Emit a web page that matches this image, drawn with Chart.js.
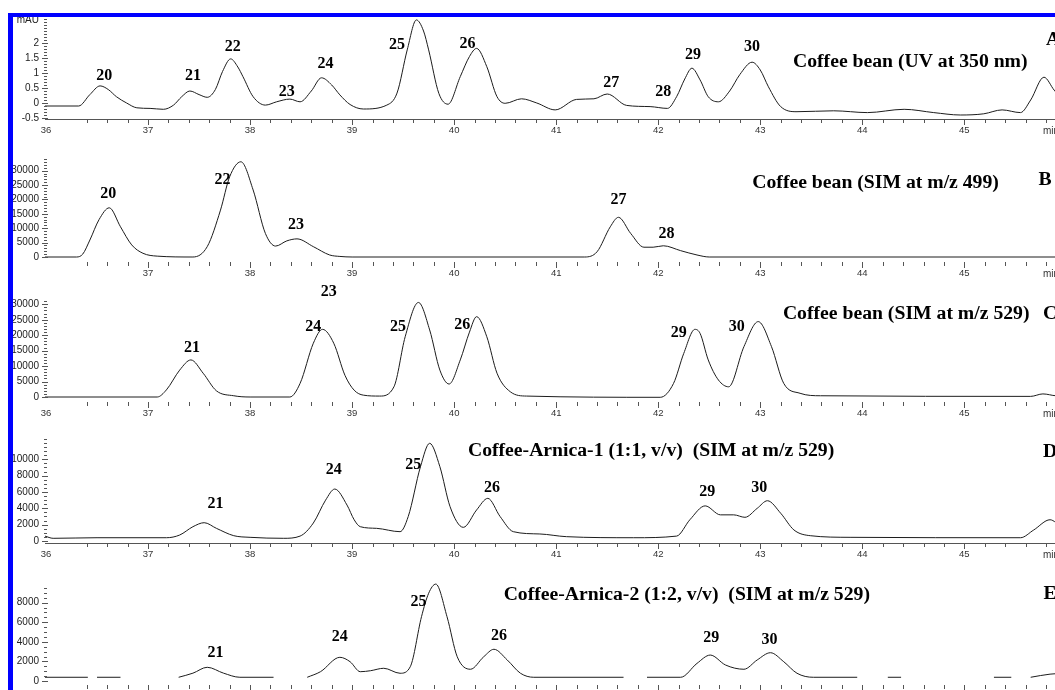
<!DOCTYPE html>
<html>
<head>
<meta charset="utf-8">
<script src="https://cdn.jsdelivr.net/npm/chart.js@4.4.0/dist/chart.umd.min.js"></script>
<style>
  html, body { margin: 0; padding: 0; background: #fff; width: 1055px; height: 690px; overflow: hidden; position: relative; }
  canvas { position: absolute; left: 0; }
  .frame { position: absolute; background: #0000ff; z-index: 10; }
</style>
</head>
<body>
<div class="frame" style="left:8px;top:13px;width:1100px;height:4px"></div>
<div class="frame" style="left:8px;top:13px;width:5px;height:700px"></div>
<script>
// retention time (min) and signal
const timeA = [35.99, 36.32, 36.43, 36.53, 36.61, 36.69, 36.79, 36.89, 37.02, 37.15, 37.25, 37.33, 37.41, 37.50, 37.58, 37.66, 37.73, 37.81, 37.88, 37.93, 38.03, 38.15, 38.26, 38.39, 38.49, 38.60, 38.70, 38.80, 38.88, 38.98, 39.11, 39.34, 39.44, 39.54, 39.63, 39.70, 39.75, 39.85, 39.94, 40.06, 40.15, 40.22, 40.32, 40.42, 40.50, 40.66, 40.81, 40.99, 41.20, 41.37, 41.50, 41.69, 41.92, 42.09, 42.18, 42.26, 42.33, 42.41, 42.49, 42.59, 42.70, 42.80, 42.92, 43.00, 43.08, 43.20, 43.36, 43.72, 44.05, 44.41, 44.70, 44.96, 45.19, 45.37, 45.55, 45.65, 45.78, 45.88, 45.98, 46.10];
const mAU_A = [-0.10, -0.10, 0.28, 0.57, 0.45, 0.21, 0.00, -0.16, -0.18, -0.21, -0.07, 0.21, 0.40, 0.28, 0.19, 0.45, 1.05, 1.47, 1.20, 0.88, 0.21, -0.07, 0.04, 0.13, 0.04, 0.40, 0.84, 0.60, 0.27, -0.05, -0.20, -0.07, 0.33, 1.77, 2.77, 2.40, 1.77, 0.32, -0.04, 0.88, 1.55, 1.82, 1.21, 0.21, -0.01, 0.14, 0.00, -0.23, 0.12, 0.14, 0.30, -0.08, -0.12, -0.18, 0.21, 0.80, 1.16, 0.77, 0.21, 0.04, 0.40, 0.95, 1.36, 1.10, 0.54, -0.12, -0.29, -0.26, -0.32, -0.21, -0.32, -0.40, -0.36, -0.23, -0.32, 0.10, 0.86, 0.43, 0.05, -0.20];

const timeB = [35.99, 36.30, 36.36, 36.43, 36.52, 36.62, 36.73, 36.84, 36.95, 37.09, 37.44, 37.58, 37.71, 37.80, 37.91, 38.03, 38.15, 38.25, 38.36, 38.46, 38.62, 38.78, 38.88, 39.00, 41.28, 41.40, 41.53, 41.61, 41.73, 41.86, 41.95, 42.05, 42.22, 42.38, 42.50, 46.30];
const countsB = [0, 0, 1000, 5900, 13000, 17100, 10500, 4200, 1300, 300, 0, 3600, 16300, 27900, 33100, 23300, 8200, 3800, 5600, 6300, 3600, 700, 200, 0, 0, 1800, 10500, 13800, 8200, 3400, 3400, 3900, 2200, 700, 0, 0];

const timeC = [35.99, 37.09, 37.18, 37.31, 37.42, 37.54, 37.67, 37.84, 38.00, 38.39, 38.49, 38.62, 38.71, 38.82, 38.93, 39.02, 39.11, 39.27, 39.41, 39.52, 39.65, 39.76, 39.86, 39.95, 40.06, 40.15, 40.22, 40.32, 40.42, 40.55, 40.71, 42.02, 42.15, 42.25, 42.36, 42.41, 42.49, 42.59, 42.69, 42.84, 42.98, 43.11, 43.23, 43.39, 43.59, 45.65, 45.77, 45.90, 46.30];
const countsC = [0, 0, 2300, 8700, 12000, 7700, 2000, 400, 0, 0, 4400, 17400, 21900, 17400, 7000, 2200, 600, 300, 3300, 19500, 30600, 21700, 8700, 4200, 12000, 21000, 26000, 19500, 7700, 1700, 300, -100, 4400, 14100, 21900, 20600, 12000, 5500, 3300, 16300, 24400, 16300, 4400, 1200, 400, 200, 1000, 400, 200];

const timeD = [35.99, 36.07, 36.50, 37.18, 37.31, 37.44, 37.55, 37.67, 37.84, 38.00, 38.33, 38.49, 38.62, 38.74, 38.83, 38.95, 39.02, 39.08, 39.24, 39.47, 39.55, 39.67, 39.76, 39.86, 39.96, 40.09, 40.22, 40.33, 40.45, 40.58, 40.84, 41.10, 41.76, 42.18, 42.31, 42.46, 42.61, 42.74, 42.85, 42.97, 43.07, 43.20, 43.33, 43.49, 43.88, 45.55, 45.68, 45.84, 45.95, 46.30];
const countsD = [600, 330, 400, 400, 730, 1750, 2240, 1550, 650, 450, 330, 600, 2200, 5000, 6360, 4400, 2600, 1750, 1550, 1140, 3000, 9100, 11960, 9100, 4200, 1670, 3800, 5220, 3000, 1140, 860, 530, 400, 600, 2600, 4300, 3200, 3200, 2900, 4000, 4930, 3400, 1350, 650, 450, 400, 1350, 2600, 1800, 800];

const timeE = [35.99, 36.41, 36.45, 36.50, 36.73, 37.00, 37.30, 37.44, 37.58, 37.74, 37.90, 38.23, 38.40, 38.56, 38.69, 38.88, 38.98, 39.08, 39.18, 39.31, 39.47, 39.57, 39.68, 39.75, 39.82, 39.93, 40.03, 40.16, 40.29, 40.39, 40.52, 40.65, 40.78, 41.66, 41.78, 41.89, 42.22, 42.38, 42.51, 42.66, 42.84, 42.97, 43.10, 43.23, 43.36, 43.52, 43.95, 44.10, 44.25, 44.38, 44.80, 45.29, 45.46, 45.55, 45.65, 45.84, 46.30];
const countsE = [380, 380, null, 380, 380, null, 380, 800, 1400, 800, 380, 380, null, 380, 950, 2420, 1970, 950, 1050, 1300, 790, 1460, 6570, 8960, 9900, 6570, 2480, 1200, 2480, 3240, 2150, 790, 380, 380, null, 380, 380, 1800, 2650, 1630, 1200, 2150, 2890, 1970, 790, 380, 380, null, 380, 380, null, 380, 380, null, 380, 700, 900];

// axis tick labels
const xLabels = [36, 37, 38, 39, 40, 41, 42, 43, 44, 45];
const yLabelsA = [-0.5, 0, 0.5, 1, 1.5, 2];
const yLabelsBC = [0, 5000, 10000, 15000, 20000, 25000, 30000];
const yLabelsD = [0, 2000, 4000, 6000, 8000, 10000];
const yLabelsE = [0, 2000, 4000, 6000, 8000];

// peak numbers and captions: [text, time, signal]
const notesA = [['20', 36.57, 0.9], ['21', 37.44, 0.9], ['22', 37.83, 1.87], ['23', 38.36, 0.37], ['24', 38.74, 1.3], ['25', 39.44, 1.93], ['26', 40.13, 1.97], ['27', 41.54, 0.67], ['28', 42.05, 0.37], ['29', 42.34, 1.6], ['30', 42.92, 1.87]];
const notesB = [['20', 36.61, 21900], ['22', 37.73, 26800], ['23', 38.45, 11100], ['27', 41.61, 19800], ['28', 42.08, 7900]];
const notesC = [['21', 37.43, 16000], ['23', 38.77, 34100], ['24', 38.62, 22800], ['25', 39.45, 22800], ['26', 40.08, 23500], ['29', 42.20, 20900], ['30', 42.77, 22600]];
const notesD = [['21', 37.66, 4600], ['24', 38.82, 8700], ['25', 39.60, 9300], ['26', 40.37, 6450], ['29', 42.48, 6000], ['30', 42.99, 6450]];
const notesE = [['21', 37.66, 2830], ['24', 38.88, 4460], ['25', 39.65, 8100], ['26', 40.44, 4600], ['29', 42.52, 4400], ['30', 43.09, 4190]];

const panels = [
  { time: timeA, signal: mAU_A, yLabels: yLabelsA, unit: 'mAU', notes: notesA,
    title: ['Coffee bean (UV at 350 nm)', 44.47, 1.37], letter: ['A', 45.87, 2.1],
    top: 20, bottom: 118, zero: 103, scale: 30, minor: 0.1, minorFrom: -0.5, minorTo: 2.75, axisLine: true, first: true },
  { time: timeB, signal: countsB, yLabels: yLabelsBC, notes: notesB,
    title: ['Coffee bean (SIM at m/z 499)', 44.13, 25600], letter: ['B', 45.79, 26800],
    top: 159, bottom: 261, zero: 257, scale: 0.002877, minor: 1000, minorFrom: 0, minorTo: 34000, axisLine: false, first: false },
  { time: timeC, signal: countsC, yLabels: yLabelsBC, notes: notesC,
    title: ['Coffee bean (SIM at m/z 529)', 44.43, 26800], letter: ['C', 45.84, 26800],
    top: 301, bottom: 401, zero: 397, scale: 0.00309, minor: 1000, minorFrom: 0, minorTo: 31000, axisLine: false, first: true },
  { time: timeD, signal: countsD, yLabels: yLabelsD, notes: notesD,
    title: ['Coffee-Arnica-1 (1:1, v/v)  (SIM at m/z 529)', 41.93, 11000], letter: ['D', 45.84, 10900],
    top: 439, bottom: 542, zero: 541, scale: 0.00817, minor: 500, minorFrom: 0, minorTo: 12500, axisLine: true, first: true },
  { time: timeE, signal: countsE, yLabels: yLabelsE, notes: notesE,
    title: ['Coffee-Arnica-2 (1:2, v/v)  (SIM at m/z 529)', 42.28, 8800], letter: ['E', 45.84, 8900],
    top: 580, bottom: 684, zero: 681, scale: 0.00979, minor: 500, minorFrom: 0, minorTo: 9500, axisLine: false, first: true }
];

const PAD_TOP = 30, AXIS_H = 28, Y_AXIS_W = 46;

function decor(p) {
  return {
    id: 'decor',
    afterDraw(chart) {
      const ctx = chart.ctx, a = chart.chartArea;
      const xs = chart.scales.x, ys = chart.scales.y;
      ctx.save();
      ctx.strokeStyle = '#555';
      ctx.lineWidth = 1;
      ctx.beginPath();
      // y ticks
      const n = Math.round((p.minorTo - p.minorFrom) / p.minor);
      for (let i = 0; i <= n; i++) {
        const v = p.minorFrom + i * p.minor;
        const py = Math.round(ys.getPixelForValue(v)) + 0.5;
        ctx.moveTo(a.left - 2, py); ctx.lineTo(a.left + 1, py);
      }
      p.yLabels.forEach(v => {
        const py = Math.round(ys.getPixelForValue(v)) + 0.5;
        ctx.moveTo(a.left - 4, py); ctx.lineTo(a.left + 2, py);
      });
      // x ticks
      const y0 = Math.round(a.bottom) + 1;
      for (let k = 182; k <= 231; k++) {
        const px = Math.round(xs.getPixelForValue(k / 5)) + 0.5;
        const len = k % 5 === 0 ? 6 : 4;
        ctx.moveTo(px, y0); ctx.lineTo(px, y0 + len);
      }
      if (p.axisLine) {
        ctx.moveTo(a.left - 1, y0 + 0.5); ctx.lineTo(a.right, y0 + 0.5);
      }
      ctx.stroke();

      // texts
      ctx.fillStyle = '#000';
      ctx.textAlign = 'center';
      ctx.textBaseline = 'middle';
      ctx.font = 'bold 16px "Liberation Serif", "Times New Roman", serif';
      p.notes.forEach(([t, x, y]) => ctx.fillText(t, xs.getPixelForValue(x), ys.getPixelForValue(y)));
      ctx.font = 'bold 19.7px "Liberation Serif", "Times New Roman", serif';
      [p.title, p.letter].forEach(([t, x, y]) => ctx.fillText(t, xs.getPixelForValue(x), ys.getPixelForValue(y)));
      // "min" axis unit at the right end
      ctx.font = '10px "Liberation Sans", Arial, sans-serif';
      ctx.fillStyle = '#333';
      ctx.textAlign = 'left';
      ctx.fillText('min', xs.getPixelForValue(45.77), a.bottom + 13);
      ctx.restore();
    }
  };
}

panels.forEach((p, idx) => {
  const yMax = (p.zero - p.top) / p.scale;
  const yMin = (p.zero - p.bottom) / p.scale;
  const canvas = document.createElement('canvas');
  canvas.width = 1097;
  canvas.height = (p.bottom - p.top) + PAD_TOP + AXIS_H;
  canvas.style.top = (p.top - PAD_TOP) + 'px';
  canvas.style.zIndex = idx + 1;
  document.body.appendChild(canvas);

  const xTicks = p.first ? xLabels : xLabels.slice(1);
  const yTicks = p.unit ? p.yLabels.concat([p.minorTo]) : p.yLabels;

  new Chart(canvas, {
    type: 'line',
    data: {
      datasets: [{
        data: p.time.map((t, i) => ({ x: t, y: p.signal[i] })),
        borderColor: '#1c1c1c',
        borderWidth: 1,
        pointRadius: 0,
        fill: false,
        spanGaps: false,
        clip: 4,
        cubicInterpolationMode: 'monotone'
      }]
    },
    options: {
      responsive: false,
      animation: false,
      events: [],
      layout: { padding: { top: PAD_TOP, left: 0, right: 0, bottom: 0 } },
      plugins: { legend: { display: false }, tooltip: { enabled: false } },
      scales: {
        x: {
          type: 'linear', min: 36, max: 46.3,
          grid: { display: false, drawTicks: false },
          border: { display: false },
          afterBuildTicks: s => { s.ticks = xTicks.map(v => ({ value: v })); },
          afterFit: s => { s.height = AXIS_H; },
          ticks: {
            padding: 7, autoSkip: false, maxRotation: 0, color: '#333',
            font: { family: '"Liberation Sans", Arial, sans-serif', size: 9.5 },
            callback: v => String(v)
          }
        },
        y: {
          type: 'linear', min: yMin, max: yMax,
          grid: { display: false, drawTicks: false },
          border: { display: false },
          afterBuildTicks: s => { s.ticks = yTicks.map(v => ({ value: v })); },
          afterFit: s => { s.width = Y_AXIS_W; },
          ticks: {
            padding: 7, autoSkip: false, color: '#222',
            font: { family: '"Liberation Sans", Arial, sans-serif', size: 10 },
            callback: (v, i) => (p.unit && i === yTicks.length - 1) ? p.unit : String(v)
          }
        }
      }
    },
    plugins: [decor(p)]
  });
});
</script>
</body>
</html>
